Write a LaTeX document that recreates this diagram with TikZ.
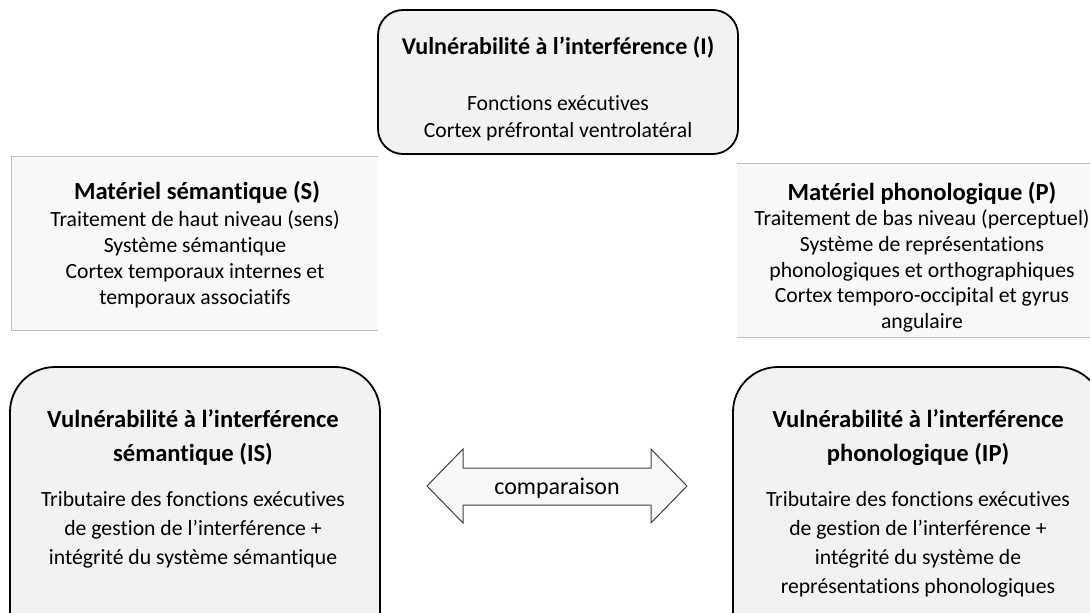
\documentclass[tikz,border=0pt]{standalone}
\usepackage{fontspec}
\setmainfont[Ligatures={NoRequired,NoCommon,NoContextual,NoRare},Contextuals={NoAlternate}]{Carlito}
\begin{document}
\begin{tikzpicture}[x=1pt,y=-1pt,
  roundbox/.style={draw=black, line width=1.8pt, fill=boxgray},
  litebox/.style={fill=litegray},
  liteline/.style={draw=lineg, line width=1pt},
  ttl/.style={anchor=base, inner sep=0pt, font=\fontsize{24.6}{29}\selectfont\bfseries},
  ttltop/.style={ttl, font=\fontsize{24.1}{29}\selectfont\bfseries},
  bdy/.style={anchor=base, inner sep=0pt, font=\fontsize{21.7}{26}\selectfont},
  arr/.style={draw=arrline, line width=1pt, fill=litegray, line join=miter}
]
\definecolor{boxgray}{HTML}{F2F2F2}
\definecolor{litegray}{HTML}{F8F8F8}
\definecolor{lineg}{HTML}{BFBFBF}
\definecolor{arrline}{HTML}{404040}
\useasboundingbox (0,0) rectangle (1090,613);
\begin{scope}
\clip (0,0) rectangle (1090,613);
% top box
\draw[roundbox, rounded corners=25pt] (378,10) rectangle (738,154);
% S box
\fill[litebox] (11,156) rectangle (378,330);
\draw[liteline] (378,156) -- (11,156) -- (11,330) -- (378,330);
% P box
\fill[litebox] (737,163) rectangle (1095,337);
\draw[liteline] (737,163) -- (1095,163);
\draw[liteline] (737,337) -- (1095,337);
% bottom boxes
\draw[roundbox, rounded corners=45pt] (10,367) rectangle (380,660);
\draw[roundbox, rounded corners=45pt] (733,367) rectangle (1103,660);
\end{scope}
% arrow
\draw[arr] (427,486) -- (463,449) -- (463,468) -- (651,468) -- (651,449) -- (687,486)
  -- (651,523) -- (651,505) -- (463,505) -- (463,523) -- cycle;
\node[bdy, font=\fontsize{24}{28}\selectfont] (cmp) at (557,494) {comparaison};

% top texts
\node[ttltop] (it) at (558,54) {Vulnérabilité à l’interférence (I)};
\node[bdy] (i1) at (558,110) {Fonctions exécutives};
\node[bdy] (i2) at (558,137) {Cortex préfrontal ventrolatéral};

% S texts
\node[ttl] (st) at (197,199) {Matériel sémantique (S)};
\node[bdy] (s1) at (195,226) {Traitement de haut niveau (sens)};
\node[bdy] (s2) at (195,252) {Système sémantique};
\node[bdy] (s3) at (195,278) {Cortex temporaux internes et};
\node[bdy] (s4) at (195,304) {temporaux associatifs};

% P texts
\node[ttl] (pt) at (922,200) {Matériel phonologique (P)};
\node[bdy] (p1) at (922,225) {Traitement de bas niveau (perceptuel)};
\node[bdy] (p2) at (922,251) {Système de représentations};
\node[bdy] (p3) at (922,277) {phonologiques et orthographiques};
\node[bdy] (p4) at (922,302) {Cortex temporo-occipital et gyrus};
\node[bdy] (p5) at (922,328) {angulaire};

% IS texts
\node[ttl] (ist1) at (193,427) {Vulnérabilité à l’interférence};
\node[ttl] (ist2) at (193,461) {sémantique (IS)};
\node[bdy] (is1) at (193,506) {Tributaire des fonctions exécutives};
\node[bdy] (is2) at (193,535) {de gestion de l’interférence +};
\node[bdy] (is3) at (193,564) {intégrité du système sémantique};

% IP texts
\node[ttl] (ipt1) at (918,427) {Vulnérabilité à l’interférence};
\node[ttl] (ipt2) at (918,461) {phonologique (IP)};
\node[bdy] (ip1) at (918,506) {Tributaire des fonctions exécutives};
\node[bdy] (ip2) at (918,535) {de gestion de l’interférence +};
\node[bdy] (ip3) at (918,564) {intégrité du système de};
\node[bdy] (ip4) at (918,593) {représentations phonologiques};
\end{tikzpicture}
\end{document}
